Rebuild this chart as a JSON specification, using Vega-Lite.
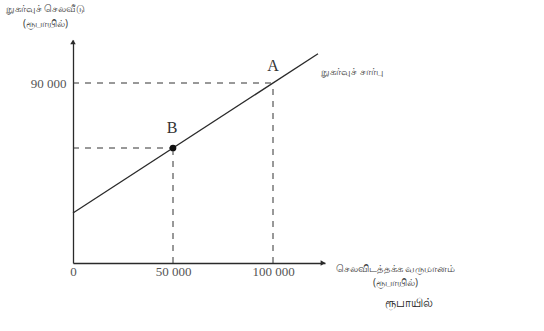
{
  "$schema": "https://vega.github.io/schema/vega-lite/v6.json",
  "width": 252,
  "height": 223,
  "autosize": {"type": "none"},
  "padding": {"left": 73, "top": 40, "right": 219, "bottom": 68},
  "background": "#ffffff",
  "config": {"view": {"stroke": null}, "font": "Liberation Serif"},
  "datasets": {
    "cf": [{"x": 0, "y": 25000}, {"x": 122500, "y": 104600}],
    "guides": [
      {"x": 0, "y": 90000, "x2": 100000, "y2": 90000},
      {"x": 100000, "y": 0, "x2": 100000, "y2": 90000},
      {"x": 0, "y": 57500, "x2": 50000, "y2": 57500},
      {"x": 50000, "y": 0, "x2": 50000, "y2": 57500}
    ],
    "pts": [{"x": 50000, "y": 57500}],
    "letters": [
      {"x": 100000, "y": 98500, "t": "A"},
      {"x": 49500, "y": 67500, "t": "B"}
    ],
    "lbl": [{"x": 124000, "y": 95500, "t": "நுகர்வுச் சார்பு"}],
    "unit": [{"x": 168000, "y": -20000, "t": "ரூபாயில்"}],
    "arrows": [
      {"x": 125000, "y": 0, "s": "triangle-right"},
      {"x": 0, "y": 110500, "s": "triangle-up"}
    ]
  },
  "layer": [
    {
      "data": {"name": "cf"},
      "mark": {"type": "line", "color": "#2a2a2a", "strokeWidth": 1.3},
      "encoding": {
        "x": {
          "field": "x", "type": "quantitative",
          "scale": {"domain": [0, 126000], "nice": false, "zero": true},
          "axis": {
            "values": [0, 50000, 100000],
            "labelExpr": "datum.value == 0 ? '0' : (datum.value == 50000 ? '50 000' : '100 000')",
            "ticks": false, "grid": false,
            "domainColor": "#2a2a2a", "domainWidth": 1.3,
            "labelFont": "Liberation Serif", "labelFontSize": 13, "labelColor": "#555555",
            "labelPadding": 2, "labelFlush": false,
            "title": ["செலவிடத்தக்க வருமானம்", "(ரூபாயில்)"],
            "titleFont": "Noto Sans", "titleFontSize": 10, "titleFontWeight": "normal",
            "titleColor": "#444444", "titleAngle": 0,
            "titleX": 322, "titleY": 0, "titleAlign": "center", "titleBaseline": "top",
            "titleLineHeight": 14
          }
        },
        "y": {
          "field": "y", "type": "quantitative",
          "scale": {"domain": [0, 111500], "nice": false, "zero": true},
          "axis": {
            "values": [90000],
            "labelExpr": "'90 000'",
            "ticks": false, "grid": false,
            "domainColor": "#2a2a2a", "domainWidth": 1.3,
            "labelFont": "Liberation Serif", "labelFontSize": 13, "labelColor": "#555555",
            "labelPadding": 7,
            "title": ["நுகர்வுச் செலவீடு", "(ரூபாயில்)"],
            "titleFont": "Noto Sans", "titleFontSize": 10, "titleFontWeight": "normal",
            "titleColor": "#444444", "titleAngle": 0,
            "titleX": -28, "titleY": -37, "titleAlign": "center", "titleBaseline": "top",
            "titleLineHeight": 15
          }
        }
      }
    },
    {
      "data": {"name": "guides"},
      "mark": {"type": "rule", "color": "#333333", "strokeDash": [6, 6], "strokeWidth": 1},
      "encoding": {
        "x": {"field": "x", "type": "quantitative"},
        "y": {"field": "y", "type": "quantitative"},
        "x2": {"field": "x2"},
        "y2": {"field": "y2"}
      }
    },
    {
      "data": {"name": "pts"},
      "mark": {"type": "point", "filled": true, "color": "#111111", "size": 45, "opacity": 1},
      "encoding": {
        "x": {"field": "x", "type": "quantitative"},
        "y": {"field": "y", "type": "quantitative"}
      }
    },
    {
      "data": {"name": "arrows"},
      "mark": {"type": "point", "filled": true, "color": "#2a2a2a", "size": 30, "opacity": 1},
      "encoding": {
        "x": {"field": "x", "type": "quantitative"},
        "y": {"field": "y", "type": "quantitative"},
        "shape": {"field": "s", "type": "nominal", "scale": null, "legend": null}
      }
    },
    {
      "data": {"name": "letters"},
      "mark": {"type": "text", "font": "Liberation Serif", "fontSize": 16, "color": "#333333"},
      "encoding": {
        "x": {"field": "x", "type": "quantitative"},
        "y": {"field": "y", "type": "quantitative"},
        "text": {"field": "t"}
      }
    },
    {
      "data": {"name": "lbl"},
      "mark": {"type": "text", "font": "Noto Sans", "fontSize": 10, "color": "#444444", "align": "left"},
      "encoding": {
        "x": {"field": "x", "type": "quantitative"},
        "y": {"field": "y", "type": "quantitative"},
        "text": {"field": "t"}
      }
    },
    {
      "data": {"name": "unit"},
      "mark": {"type": "text", "font": "Noto Sans", "fontSize": 12, "color": "#222222", "clip": false},
      "encoding": {
        "x": {"field": "x", "type": "quantitative"},
        "y": {"field": "y", "type": "quantitative"},
        "text": {"field": "t"}
      }
    }
  ]
}
